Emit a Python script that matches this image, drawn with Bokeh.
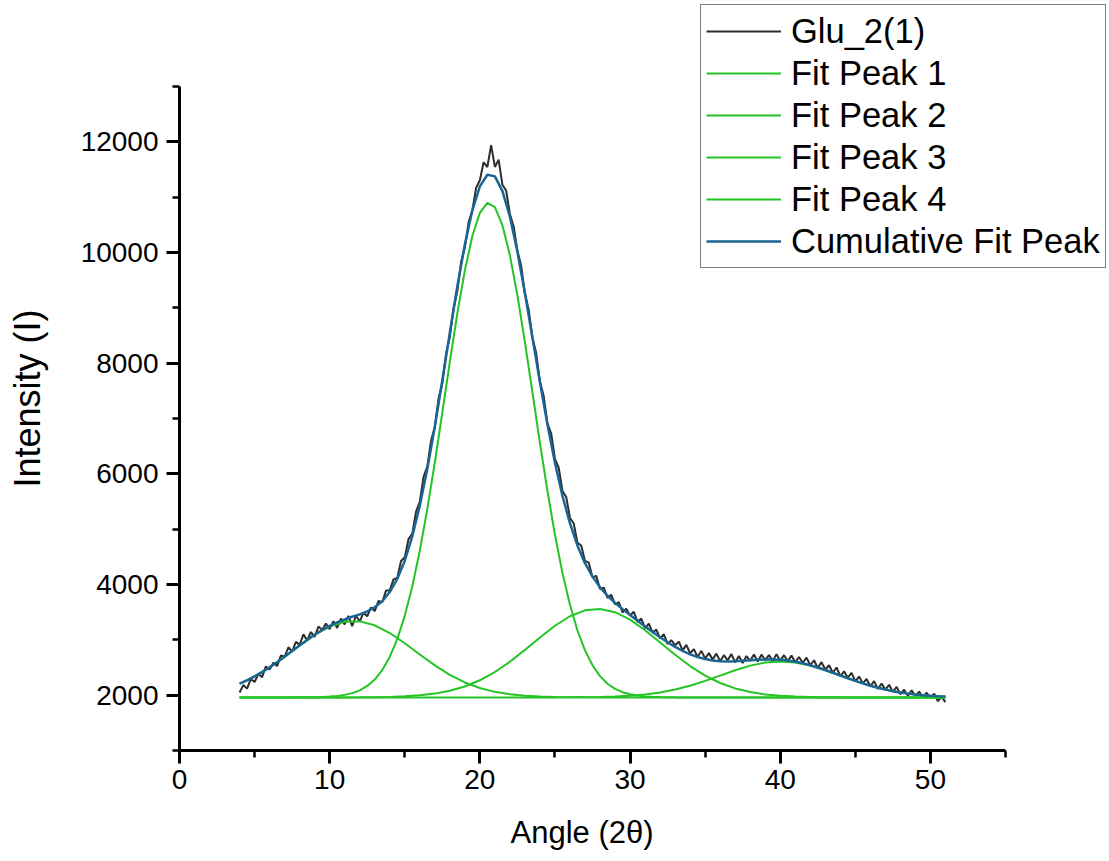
from bokeh.plotting import figure
from bokeh.models import Range1d, SingleIntervalTicker, Legend, LegendItem, Title
from bokeh.embed import file_html
from bokeh.resources import INLINE

# ---------------- data ----------------
# raw diffractogram, sampled every 0.25 degree from 4 to 51
angle_raw = [round(4 + 0.25 * i, 2) for i in range(189)]
intensity_raw = [
    2047, 2182, 2118, 2293, 2238, 2382, 2326, 2520, 2463, 2585,
    2526, 2716, 2695, 2866, 2787, 2963, 2909, 3099, 2989, 3141,
    3052, 3240, 3178, 3296, 3193, 3335, 3216, 3383, 3280, 3434,
    3248, 3435, 3331, 3493, 3425, 3587, 3519, 3704, 3678, 3890,
    3893,
    4092, 4120, 4426, 4491,
    4821, 4920, 5317, 5493,
    5946, 6129, 6601, 6842,
    7360, 7637, 8168, 8479,
    8989, 9299, 9827, 10084,
    10544, 10763, 11169, 11305,
    11630, 11545, 11940, 11546,
    11676, 11225, 11121, 10697,
    10471, 10034, 9761, 9258,
    8967, 8465, 8182, 7668,
    7405, 6912, 6726, 6270,
    6111, 5691, 5582, 5203,
    5102, 4751, 4704, 4426,
    4394, 4132, 4156, 3919,
    3943, 3757, 3813, 3639,
    3682, 3495, 3562, 3439,
    3507, 3325, 3384, 3213,
    3293, 3133, 3185, 3026,
    3101, 2926, 2994, 2902,
    2966, 2809, 2908, 2757,
    2833, 2689, 2801, 2662,
    2760, 2647, 2751, 2614,
    2722, 2630, 2742, 2593,
    2707, 2581, 2706, 2620,
    2735, 2609, 2732, 2634,
    2725, 2615, 2742, 2619,
    2723, 2616, 2715, 2594,
    2690, 2586, 2679, 2541,
    2631, 2490, 2597, 2464,
    2540, 2405, 2500, 2345,
    2431, 2316, 2402, 2248,
    2336, 2213, 2292, 2161,
    2253, 2114, 2208, 2101,
    2187, 2062, 2150, 2018,
    2098, 1988, 2090, 1982,
    2066, 1959, 2044, 1949,
    2025, 1891, 1968, 1875,
]

# fitted curves sampled every 0.5 degree from 4 to 51
angle_half = [4 + 0.5 * i for i in range(95)]
fit_peak2 = [
    1960, 1960, 1960, 1960, 1960, 1960, 1960, 1960,
    1961, 1962, 1964, 1968, 1974, 1985, 2005, 2037,
    2087, 2166, 2283, 2453, 2691, 3013, 3434, 3965,
    4610, 5363, 6205, 7106, 8022, 8899, 9677, 10299,
    10717, 10895, 10818, 10493, 9948, 9225, 8381, 7474,
    6561, 5690, 4899, 4209, 3633, 3169, 2809, 2540,
    2344, 2207, 2115, 2054, 2016, 1992, 1978, 1970,
    1965, 1963, 1961, 1960, 1960, 1960, 1960, 1960,
    1960, 1960, 1960, 1960, 1960, 1960, 1960, 1960,
    1960, 1960, 1960, 1960, 1960, 1960, 1960, 1960,
    1960, 1960, 1960, 1960, 1960, 1960, 1960, 1960,
    1960, 1960, 1960, 1960, 1960, 1960, 1960,
]
cumulative_fit = [
    2207, 2268, 2338, 2416, 2503, 2596, 2695, 2797,
    2899, 2999, 3092, 3178, 3253, 3316, 3370, 3418,
    3461, 3515, 3589, 3698, 3863, 4100, 4431, 4870,
    5423, 6089, 6852, 7687, 8549, 9389, 10144, 10763,
    11195, 11405, 11376, 11115, 10647, 10014, 9268, 8465,
    7658, 6892, 6200, 5601, 5103, 4701, 4386, 4142,
    3949, 3797, 3669, 3555, 3449, 3345, 3243, 3143,
    3046, 2956, 2872, 2799, 2737, 2689, 2652, 2627,
    2614, 2610, 2613, 2621, 2630, 2639, 2644, 2645,
    2639, 2626, 2604, 2576, 2541, 2500, 2454, 2405,
    2355, 2306, 2258, 2213, 2171, 2134, 2101, 2072,
    2048, 2028, 2012, 1999, 1989, 1981, 1975,
]

# broad fitted peaks sampled every degree from 4 to 51
angle_int = list(range(4, 52))
fit_peak1 = [
    2207, 2338, 2503, 2695, 2898, 3088, 3239, 3325, 3333, 3262, 3123,
    2938, 2736, 2539, 2368, 2230, 2129, 2060, 2015, 1989, 1974, 1967, 1963, 1961,
    1960, 1960, 1960, 1960, 1960, 1960, 1960, 1960, 1960, 1960, 1960, 1960,
    1960, 1960, 1960, 1960, 1960, 1960, 1960, 1960, 1960, 1960, 1960, 1960,
]
fit_peak3 = [
    1960, 1960, 1960, 1960, 1960, 1960, 1960, 1960,
    1961, 1964, 1969, 1979, 1997, 2028, 2079, 2157, 2269, 2418, 2604,
    2818, 3043, 3254, 3426, 3533, 3558, 3499, 3364, 3173, 2953, 2730,
    2526, 2354, 2220, 2122, 2056, 2014, 1989, 1974, 1967, 1963, 1961,
    1960, 1960, 1960, 1960, 1960, 1960, 1960,
]
fit_peak4 = [
    1960, 1960, 1960, 1960, 1960, 1960, 1960, 1960, 1960, 1960, 1960,
    1960, 1960, 1960, 1960, 1960, 1960, 1960, 1960, 1960, 1960, 1960,
    1961, 1963, 1967, 1975, 1989, 2012, 2048, 2101, 2171, 2258, 2354,
    2451, 2534, 2590, 2610, 2590, 2534, 2451, 2354, 2258, 2171, 2101,
    2048, 2012, 1989, 1975,
]

assert len(intensity_raw) == len(angle_raw)
assert len(fit_peak2) == len(angle_half) == len(cumulative_fit)
assert len(fit_peak1) == len(fit_peak3) == len(fit_peak4) == len(angle_int)

series_labels = ["Glu_2(1)", "Fit Peak 1", "Fit Peak 2", "Fit Peak 3",
                 "Fit Peak 4", "Cumulative Fit Peak"]
x_title = "Angle (2θ)"
y_title = "Intensity (I)"

# axis extents shown by the axis lines
x_axis_bounds = (0, 55)
y_axis_bounds = (1000, 13000)

# ---------------- layout ----------------
FONT = "Liberation Sans"
DATA_COLOR = "#2e2e2e"
PEAK_COLOR = "#24c424"
CUM_COLOR = "#1b6594"

FIG_W, FIG_H = 1106, 861
LEFT, BOTTOM = 179, 111
frame_w = FIG_W - LEFT            # frame runs to the right edge (room for legend)
frame_h = FIG_H - BOTTOM          # frame runs to the top edge (room for legend)
axis_len_x = 826                  # pixels used by 0..55
axis_len_y = 664                  # pixels used by 1000..13000
x_end = x_axis_bounds[0] + frame_w * (x_axis_bounds[1] - x_axis_bounds[0]) / axis_len_x
y_end = y_axis_bounds[0] + frame_h * (y_axis_bounds[1] - y_axis_bounds[0]) / axis_len_y

p = figure(width=FIG_W, height=FIG_H,
           x_range=Range1d(x_axis_bounds[0], x_end),
           y_range=Range1d(y_axis_bounds[0], y_end),
           output_backend="svg", toolbar_location=None,
           min_border_left=LEFT, min_border_right=0,
           min_border_top=0, min_border_bottom=BOTTOM)

p.xgrid.visible = False
p.ygrid.visible = False
p.outline_line_color = None
p.background_fill_color = "white"
p.border_fill_color = "white"

p.xaxis.ticker = SingleIntervalTicker(interval=10, num_minor_ticks=2)
p.yaxis.ticker = SingleIntervalTicker(interval=2000, num_minor_ticks=2)
p.xaxis.bounds = x_axis_bounds
p.yaxis.bounds = y_axis_bounds

for ax in (p.xaxis, p.yaxis):
    ax.axis_line_width = 3
    ax.axis_line_color = "black"
    ax.major_tick_line_width = 3
    ax.minor_tick_line_width = 2.5
    ax.major_tick_line_color = "black"
    ax.minor_tick_line_color = "black"
    ax.major_tick_in = 0
    ax.minor_tick_in = 0
    ax.major_tick_out = 13
    ax.minor_tick_out = 7
    ax.major_label_text_font = FONT
    ax.major_label_text_font_size = "28px"
    ax.major_label_text_color = "black"
    # blank, tiny axis labels only add spacing between tick labels and the titles
    ax.axis_label = " "
    ax.axis_label_text_font_size = "1px"

p.xaxis.major_label_standoff = 6
p.yaxis.major_label_standoff = 8
p.xaxis.axis_label_standoff = 14
p.yaxis.axis_label_standoff = 22

# axis titles placed relative to the axis extents (frame is larger than the axes)
p.add_layout(Title(text=x_title, align="left", offset=331, standoff=6,
                   text_font=FONT, text_font_size="31px",
                   text_font_style="normal", text_color="black"), "below")
p.add_layout(Title(text=y_title, align="left", offset=263, standoff=8,
                   text_font=FONT, text_font_size="36px",
                   text_font_style="normal", text_color="black"), "left")

# ---------------- glyphs ----------------
r_data = p.line(angle_raw, intensity_raw, line_color=DATA_COLOR, line_width=2)
r_p1 = p.line(angle_int, fit_peak1, line_color=PEAK_COLOR, line_width=2)
r_p2 = p.line(angle_half, fit_peak2, line_color=PEAK_COLOR, line_width=2)
r_p3 = p.line(angle_int, fit_peak3, line_color=PEAK_COLOR, line_width=2)
r_p4 = p.line(angle_int, fit_peak4, line_color=PEAK_COLOR, line_width=2)
r_cum = p.line(angle_half, cumulative_fit, line_color=CUM_COLOR, line_width=2.5)

renderers = [r_data, r_p1, r_p2, r_p3, r_p4, r_cum]
legend = Legend(
    items=[LegendItem(label=lab, renderers=[r]) for lab, r in zip(series_labels, renderers)],
    location=(521, 482),
    orientation="vertical",
    label_text_font=FONT,
    label_text_font_size="34.5px",
    label_text_color="black",
    glyph_width=75,
    glyph_height=42,
    label_height=42,
    label_standoff=10,
    spacing=0,
    padding=5,
    margin=0,
    border_line_color="black",
    border_line_width=1.5,
    background_fill_color="white",
    background_fill_alpha=1.0,
)
p.add_layout(legend)

open("out.html", "w").write(file_html(p, INLINE))
